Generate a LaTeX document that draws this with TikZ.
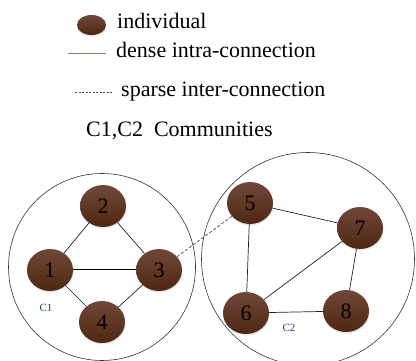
\documentclass[tikz,border=0pt]{standalone}
\usepackage{fontspec}
\setmainfont{Liberation Serif}
\usetikzlibrary{shapes.geometric,shadows}

\definecolor{brownlight}{RGB}{112,72,56}
\definecolor{browndark}{RGB}{78,38,18}
\definecolor{legendbrown}{RGB}{170,120,90}
\definecolor{tagblue}{RGB}{40,60,110}

\begin{document}
\begin{tikzpicture}[x=1pt, y=-1pt,
    every node/.style={font=\fontsize{22}{26}\selectfont, text=black, inner sep=0pt},
    person/.style={ellipse, minimum width=46pt, minimum height=42pt,
        top color=brownlight, bottom color=browndark,
        drop shadow={opacity=0.2, shadow xshift=0.5pt, shadow yshift=-1.5pt}},
    community/.style={circle, draw=gray!40!black, line width=0.6pt},
    intra/.style={draw=gray!25!black, line width=0.7pt},
    strong/.style={draw=black, line width=1pt},
    inter/.style={draw=gray!60!black, dash pattern=on 3pt off 2pt, line width=0.7pt},
    tag/.style={font=\fontsize{11}{13}\selectfont, text=tagblue},
    ]
  \useasboundingbox (0,0) rectangle (416,361);
  \clip (0,0) rectangle (416,361);

  % legend
  \node[person, minimum width=29pt, minimum height=20pt] (key) at (91.5,25) {};
  \node[anchor=base west] (keyind) at (117,29) {individual};
  \coordinate (denseA) at (68,53);
  \coordinate (denseB) at (106,53);
  \draw[draw=legendbrown, line width=0.9pt] (denseA) -- (denseB);
  \node[anchor=base west] (keydense) at (116,58) {dense intra-connection};
  \coordinate (sparseA) at (75,92);
  \coordinate (sparseB) at (112,92);
  \draw[inter, dash pattern=on 2pt off 1.5pt] (sparseA) -- (sparseB);
  \node[anchor=base west] (keysparse) at (121,97) {sparse inter-connection};
  \node[anchor=base west] (keycomm) at (86,137) {C1,C2\ \ Communities};

  % communities
  \node[community, minimum size=187pt] (C1) at (102,267) {};
  \node[community, minimum size=213pt] (C2) at (308,259) {};
  \node[tag] (c1tag) at (46,308) {C1};
  \node[tag] (c2tag) at (289,328) {C2};

  % individuals
  \node[person] (n1) at (50,270) {1};
  \node[person] (n2) at (103,206) {2};
  \node[person] (n3) at (159,270) {3};
  \node[person] (n4) at (102,322) {4};
  \node[person] (n5) at (250,203) {5};
  \node[person] (n6) at (246,313) {6};
  \node[person] (n7) at (360,228) {7};
  \node[person] (n8) at (346,311) {8};

  % links inside C1
  \draw[intra] (n1) -- (n2);
  \draw[intra] (n2) -- (n3);
  \draw[strong] (n1) -- (n3);
  \draw[intra] (n1) -- (n4);
  \draw[intra] (n3) -- (n4);
  % links inside C2
  \draw[intra] (n5) -- (n7);
  \draw[intra] (n5) -- (n6);
  \draw[intra] (n6) -- (n7);
  \draw[intra] (n7) -- (n8);
  \draw[intra] (n6) -- (n8);
  % link between
  \draw[inter] (n3) -- (n5);
\end{tikzpicture}
\end{document}
